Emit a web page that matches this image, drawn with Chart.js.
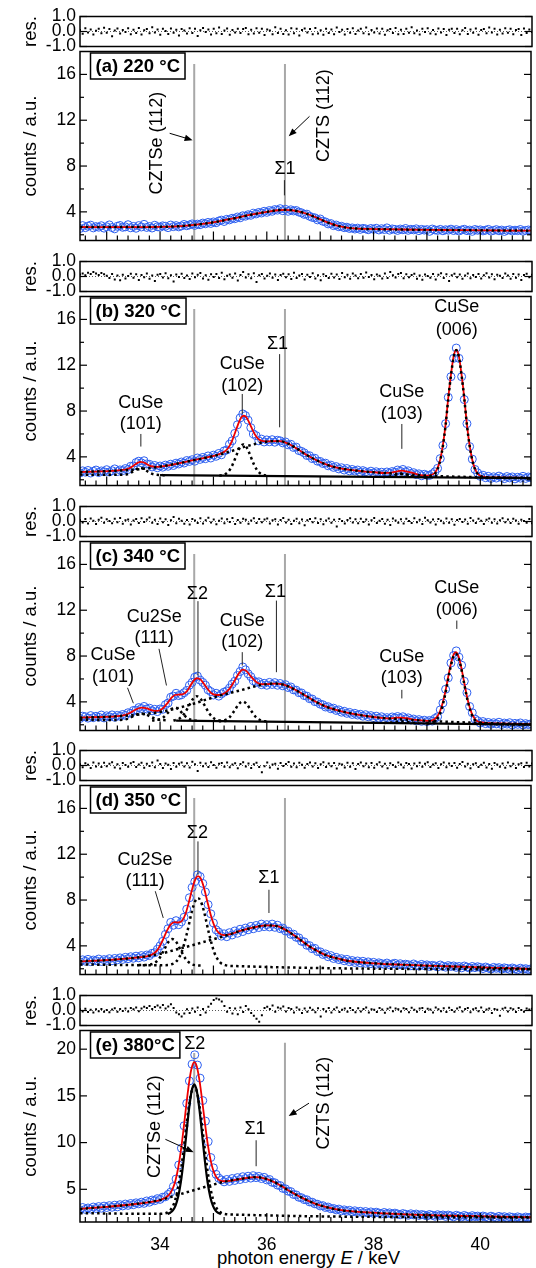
<!DOCTYPE html>
<html><head><meta charset="utf-8">
<script src="https://cdn.jsdelivr.net/npm/chart.js@4.4.1/dist/chart.umd.min.js"></script>
<style>
html,body{margin:0;padding:0;background:#fff}
body{position:relative;width:536px;height:1268px;overflow:hidden}
canvas{position:absolute;left:0}
#xtitle{position:absolute;left:0;width:617px;text-align:center;top:1248px;font:18.5px "Liberation Sans",Arial,sans-serif;line-height:20px;white-space:nowrap;color:#000}
</style></head><body>
<div id="xtitle">photon energy <i>E</i> / keV</div>
<script>
// ---------- energy grid (measurement points, keV) ----------
const energyStart = 32.5, energyStep = 0.05, energyCount = 170;
const energy = Array.from({length: energyCount}, (_, i) => Math.round((energyStart + energyStep * i) * 100) / 100);
const xTickLabels = [34, 36, 38, 40];
const resTickLabels = [-1, 0, 1];
const countTicksAD = [4, 8, 12, 16];
const countMinorAD = [2, 6, 10, 14];
const countTicksE = [5, 10, 15, 20];

// ---------- (a) 220 °C ----------
const aCounts = [2.55,2.80,2.62,2.75,2.84,2.60,2.71,2.66,2.79,2.58,
2.70,2.86,2.63,2.52,2.74,2.81,2.65,2.69,2.88,2.61,
2.73,2.57,2.80,2.68,2.91,2.64,2.72,2.59,2.83,2.70,
2.66,2.78,2.74,2.62,2.85,2.71,2.80,2.69,2.77,2.90,
2.79,2.86,2.95,2.82,2.93,2.88,3.02,2.96,3.08,2.99,
3.12,3.05,3.20,3.28,3.16,3.35,3.30,3.44,3.40,3.55,
3.48,3.66,3.62,3.75,3.70,3.88,3.82,3.95,3.90,4.05,
3.96,4.12,4.05,4.20,4.15,4.28,4.10,4.22,4.05,4.18,
4.08,4.12,3.98,3.92,3.78,3.80,3.62,3.52,3.48,3.30,
3.38,3.18,3.12,2.95,2.98,2.80,2.85,2.70,2.74,2.62,
2.66,2.55,2.60,2.50,2.58,2.47,2.56,2.52,2.44,2.55,
2.48,2.57,2.42,2.53,2.46,2.60,2.40,2.51,2.47,2.38,
2.50,2.44,2.55,2.39,2.48,2.43,2.52,2.36,2.47,2.41,
2.45,2.30,2.50,2.42,2.38,2.47,2.35,2.44,2.40,2.49,
2.37,2.45,2.33,2.42,2.48,2.36,2.41,2.30,2.46,2.39,
2.43,2.34,2.40,2.47,2.32,2.38,2.45,2.35,2.41,2.29,
2.39,2.44,2.33,2.40,2.36,2.46,2.31,2.38,2.42,2.35];
const aRes = [.10,-.15,.22,-.06,.14,-.20,.05,.18,-.12,.25,
-.08,.16,-.32,.06,.20,-.14,.10,-.04,.22,-.18,
.12,-.10,.24,-.20,.08,.16,-.12,.28,-.06,.14,
-.22,.18,.04,-.16,.20,-.08,.12,-.26,.16,.06,
-.14,.22,-.10,.18,-.30,.08,.24,-.04,.14,-.20,
.18,-.12,.26,-.16,.06,.20,-.22,.10,-.06,.18,
-.10,.16,.24,-.18,.12,-.14,.22,-.08,.18,-.24,
.14,.06,-.18,.28,-.10,.18,-.16,.08,-.20,.22,
-.12,.18,-.26,.10,.20,-.06,.16,-.18,.24,-.14,
.08,-.22,.18,-.10,.14,-.18,.26,-.04,.12,-.20,
.16,-.08,.22,-.16,.06,.18,-.12,.26,-.18,.10,
-.06,.20,-.14,.18,-.22,.08,.16,-.10,.24,-.18,
.12,-.16,.18,-.08,.28,-.12,.06,-.20,.18,-.04,
.22,-.14,.10,-.18,.20,-.06,.16,-.24,.12,.18,
-.10,.18,-.18,.08,.24,-.16,.14,-.08,.20,-.22,
.10,.16,-.12,.26,-.06,.18,-.20,.12,-.14,.22,
-.08,.18,-.18,.10,.16,-.24,.20,-.10,.14,-.04];
const aFitX = [32.5,33.0,33.5,34.0,34.4,34.8,35.1,35.4,35.7,36.0,36.2,36.35,36.5,36.7,36.9,37.1,37.3,37.5,37.7,38.0,38.5,39.0,39.5,40.0,40.5,40.95];
const aFitY = [2.68,2.67,2.67,2.69,2.76,2.95,3.17,3.45,3.75,4.00,4.14,4.18,4.12,3.90,3.55,3.15,2.82,2.62,2.54,2.50,2.46,2.43,2.41,2.39,2.37,2.36];

// ---------- (b) 320 °C ----------
const bCounts = [2.60,2.78,2.66,2.81,2.59,2.74,2.85,2.63,2.77,2.70,
2.88,2.68,2.79,2.95,2.72,2.86,2.80,2.98,2.90,3.18,
3.20,3.50,3.62,3.48,3.66,3.38,3.35,3.12,3.25,3.05,
3.20,3.10,3.28,3.18,3.36,3.25,3.45,3.38,3.55,3.46,
3.68,3.60,3.75,3.62,3.90,3.78,3.95,3.84,4.08,3.90,
4.15,4.05,4.30,4.18,4.52,4.60,5.10,5.40,6.05,6.80,
7.40,7.75,7.60,7.20,6.55,6.00,5.85,5.40,5.55,5.30,
5.48,5.32,5.50,5.28,5.45,5.40,5.22,5.30,5.05,5.10,
4.82,4.85,4.55,4.48,4.35,4.12,4.10,3.85,3.88,3.62,
3.60,3.42,3.45,3.22,3.28,3.08,3.15,2.95,3.05,2.85,
2.98,2.78,2.90,2.76,2.85,2.65,2.80,2.70,2.62,2.75,
2.60,2.70,2.55,2.66,2.52,2.68,2.58,2.72,2.66,2.85,
2.74,2.90,2.70,2.78,2.55,2.62,2.45,2.52,2.35,2.48,
2.40,2.38,2.52,2.70,3.00,3.85,5.00,6.90,9.20,11.00,
12.60,13.50,12.60,11.00,9.00,6.90,4.90,3.80,2.90,2.60,
2.30,2.40,2.18,2.30,2.12,2.26,2.15,2.32,2.20,2.10,
2.28,2.16,2.25,2.08,2.22,2.14,2.30,2.12,2.24,2.18];
const bRes = [.14,.20,.08,.25,.16,.30,.20,.10,.24,.15,
.05,-.10,.17,-.20,.07,-.25,.12,-.14,.04,.19,
-.08,.15,-.24,.10,-.05,.20,-.15,.07,-.30,.12,
.17,-.07,.22,-.12,.08,-.34,.14,-.04,.19,-.10,
.07,-.17,.20,-.05,.12,.24,-.14,.08,-.22,.15,
-.04,.17,-.10,.25,-.19,.05,.14,-.08,.20,-.27,
.10,.30,-.07,.15,-.12,.22,-.37,.08,.17,-.14,
.05,.20,-.08,.14,-.24,.10,.19,-.05,.15,-.17,
.25,-.10,.07,.17,-.20,.12,-.04,.22,-.14,.08,
-.25,.15,.04,-.10,.19,-.07,.14,-.17,.24,-.05,
.12,-.15,.20,.07,-.12,.17,-.08,.27,-.04,.10,
-.19,.14,.05,-.14,.20,-.10,.30,.08,-.07,.17,
.24,-.12,.15,-.05,.10,.19,-.15,.07,-.22,.14,
.04,-.08,.17,-.20,.12,.22,-.10,.15,-.30,.08,
.19,-.05,.14,-.15,.07,.20,-.12,.10,-.04,.17,
-.14,.08,.22,-.07,.15,-.19,.12,.05,-.10,.20,
.07,-.15,.17,-.08,.14,-.24,.10,.19,-.05,.12];
const bFitX = [32.5,32.8,33.1,33.3,33.38,33.43,33.48,33.53,33.58,33.63,33.68,33.73,33.78,33.83,33.88,33.95,34.1,34.3,34.5,34.7,34.9,35.05,35.16,35.21,35.26,35.31,35.36,35.41,35.46,35.51,35.56,35.61,35.66,35.71,35.76,35.81,35.86,35.91,35.96,36.1,36.25,36.4,36.55,36.7,36.85,37.0,37.2,37.4,37.6,37.8,38.0,38.2,38.33,38.43,38.53,38.63,38.73,38.85,39.0,39.1,39.15,39.2,39.25,39.3,39.35,39.4,39.45,39.5,39.55,39.6,39.65,39.7,39.75,39.8,39.85,39.9,39.95,40.0,40.1,40.3,40.6,40.95];
const bFitY = [2.68,2.72,2.78,2.86,2.93,3.02,3.16,3.33,3.48,3.56,3.53,3.43,3.29,3.19,3.14,3.13,3.21,3.39,3.59,3.78,3.98,4.14,4.33,4.47,4.69,5.03,5.53,6.17,6.82,7.35,7.59,7.49,7.10,6.59,6.09,5.72,5.49,5.39,5.35,5.37,5.37,5.15,4.75,4.30,3.90,3.55,3.20,2.98,2.84,2.74,2.66,2.59,2.63,2.72,2.80,2.72,2.60,2.43,2.37,2.46,2.63,3.04,3.79,5.05,6.83,9.16,11.15,12.76,13.36,12.75,11.14,9.13,6.80,5.00,3.73,2.96,2.55,2.35,2.24,2.20,2.18,2.16];
const bBroadX = [32.5,33.0,33.5,33.9,34.25,34.6,35.0,35.3,35.6,35.9,36.1,36.25,36.4,36.55,36.7,36.85,37.0,37.2,37.4,37.6,37.8,38.0,38.3,38.6,39.0,39.4,39.8,40.2,40.6,40.95];
const bBroadY = [2.68,2.76,2.88,3.08,3.35,3.68,4.08,4.45,4.90,5.25,5.37,5.37,5.15,4.75,4.30,3.90,3.55,3.20,2.98,2.84,2.74,2.66,2.56,2.46,2.36,2.29,2.24,2.20,2.18,2.16];
const bBaseX = [34.0,40.95];
const bBaseY = [2.40,2.15];
const b101X = [32.5,33.28,33.33,33.38,33.43,33.48,33.53,33.58,33.63,33.68,33.73,33.78,33.83,33.88,33.93,33.98,34.1];
const b101Y = [2.45,2.43,2.44,2.48,2.56,2.69,2.85,2.98,3.03,2.98,2.85,2.69,2.56,2.48,2.44,2.42,2.40];
const b102X = [35.11,35.16,35.21,35.26,35.31,35.36,35.41,35.46,35.51,35.56,35.61,35.66,35.71,35.76,35.81,35.86,35.91,35.96,36.01];
const b102Y = [2.36,2.39,2.46,2.62,2.90,3.33,3.89,4.47,4.92,5.09,4.92,4.47,3.89,3.33,2.90,2.62,2.46,2.39,2.36];
const b103X = [38.18,38.28,38.33,38.38,38.43,38.48,38.53,38.58,38.63,38.68,38.73,38.78,38.88];
const b103Y = [2.25,2.28,2.32,2.38,2.45,2.51,2.54,2.51,2.45,2.38,2.32,2.28,2.25];
const b006X = [38.95,39.05,39.1,39.15,39.2,39.25,39.3,39.35,39.4,39.45,39.5,39.55,39.6,39.65,39.7,39.75,39.8,39.85,39.9,39.95,40.0,40.05,40.15,40.95];
const b006Y = [2.20,2.21,2.32,2.50,2.93,3.70,4.97,6.76,9.09,11.09,12.70,13.30,12.70,11.09,9.09,6.76,4.97,3.70,2.93,2.52,2.32,2.24,2.19,2.15];

// ---------- (c) 340 °C ----------
const cCounts = [2.55,2.75,2.70,2.58,2.80,2.62,2.74,2.66,2.85,2.60,
2.78,2.70,2.86,2.65,2.82,2.74,2.90,2.82,3.05,3.00,
3.25,3.28,3.50,3.42,3.60,3.38,3.45,3.22,3.35,3.15,
3.38,3.35,3.75,3.90,4.40,4.50,4.75,4.55,4.62,4.80,
5.00,5.45,5.70,6.15,6.25,5.90,5.70,5.45,5.05,4.90,
4.60,4.75,4.50,4.70,4.85,4.95,5.20,5.55,5.80,6.30,
6.65,7.05,6.80,6.45,6.20,5.85,5.70,5.75,5.50,5.62,
5.45,5.70,5.52,5.68,5.45,5.60,5.40,5.50,5.25,5.30,
5.05,5.02,4.80,4.78,4.55,4.50,4.28,4.25,4.02,3.98,
3.80,3.75,3.55,3.58,3.40,3.45,3.25,3.30,3.10,3.18,
3.00,3.08,2.90,3.00,2.85,2.92,2.75,2.88,2.70,2.80,
2.62,2.75,2.58,2.70,2.52,2.62,2.50,2.68,2.60,2.72,
2.58,2.70,2.52,2.60,2.42,2.50,2.35,2.45,2.30,2.40,
2.28,2.38,2.32,2.55,2.70,3.30,3.90,5.10,6.10,7.40,
8.05,8.45,7.90,7.20,5.80,4.80,3.60,3.05,2.50,2.35,
2.15,2.28,2.10,2.20,2.05,2.18,2.08,2.22,2.02,2.15,
2.06,2.18,1.98,2.12,2.04,2.16,1.98,2.10,2.02,2.08];
const cRes = [.10,-.07,.17,-.14,.20,.05,-.17,.12,.25,-.08,
.15,.04,-.12,.19,-.05,.24,-.15,.08,.14,-.20,
.07,.17,-.10,.22,-.04,.14,.27,-.08,.12,-.17,
.20,-.05,.15,-.24,.08,.30,-.12,.19,.05,-.15,
.10,-.20,.17,.07,-.10,.22,-.14,.08,.25,-.07,
.14,-.19,.05,.20,-.12,.15,-.04,.24,-.17,.10,
-.08,.19,.12,-.15,.07,.22,-.10,.17,-.05,.14,
.20,-.14,.08,.15,-.20,.10,.24,-.07,.12,-.17,
.05,.19,-.12,.14,-.25,.08,.17,-.05,.22,-.10,
.15,-.19,.07,.20,-.08,.12,-.34,.17,.04,-.14,
.10,.22,-.07,.15,-.12,.19,-.04,.14,-.20,.08,
.24,-.10,.05,.17,-.15,.12,-.24,.20,.07,-.08,
.15,-.14,.19,.04,-.10,.22,-.05,.12,-.17,.25,
.08,-.07,.14,-.20,.17,.05,-.12,.20,-.08,.15,
-.22,.10,.17,-.04,.14,-.15,.24,.07,-.10,.19,
.05,-.17,.12,.20,-.08,.15,-.14,.08,.22,-.05,
.14,-.10,.19,.07,-.15,.12,.04,-.08,.17,-.12];
const cFitX = [32.5,32.9,33.2,33.35,33.45,33.55,33.65,33.75,33.85,33.95,34.05,34.15,34.22,34.28,34.35,34.42,34.5,34.56,34.62,34.69,34.76,34.82,34.88,34.95,35.02,35.1,35.2,35.3,35.4,35.48,35.55,35.62,35.7,35.8,35.9,36.0,36.15,36.3,36.45,36.6,36.75,36.9,37.1,37.3,37.5,37.7,38.0,38.3,38.42,38.52,38.62,38.75,39.0,39.1,39.15,39.2,39.25,39.3,39.35,39.4,39.45,39.5,39.54,39.59,39.64,39.69,39.74,39.79,39.84,39.89,39.94,39.99,40.5,40.95];
const cFitY = [2.62,2.68,2.75,2.87,3.07,3.34,3.50,3.43,3.26,3.21,3.42,3.96,4.39,4.60,4.64,4.65,4.91,5.34,5.79,6.06,5.94,5.58,5.19,4.81,4.62,4.60,4.73,5.13,5.87,6.51,6.81,6.68,6.23,5.74,5.54,5.55,5.60,5.52,5.25,4.88,4.47,4.05,3.60,3.30,3.06,2.88,2.68,2.55,2.62,2.63,2.57,2.44,2.34,2.39,2.52,2.77,3.23,3.98,5.00,6.21,7.35,8.13,8.33,7.99,7.09,5.90,4.70,3.70,3.00,2.57,2.33,2.23,2.10,2.05];
const cBroadX = [32.5,33.0,33.5,34.0,34.3,34.6,34.9,35.2,35.5,35.8,36.0,36.15,36.3,36.45,36.6,36.75,36.9,37.1,37.3,37.5,37.7,38.0,38.3,38.7,39.1,39.5,40.0,40.5,40.95];
const cBroadY = [2.62,2.70,2.84,3.12,3.42,3.80,4.25,4.65,5.00,5.38,5.55,5.60,5.52,5.25,4.88,4.47,4.05,3.60,3.30,3.06,2.88,2.68,2.55,2.42,2.32,2.24,2.16,2.10,2.05];
const cBaseX = [34.3,40.95];
const cBaseY = [2.36,2.02];
const c101X = [32.5,33.05,33.2,33.3,33.35,33.45,33.55,33.65,33.75,33.85,33.95,34.05,34.15];
const c101Y = [2.45,2.41,2.42,2.44,2.47,2.64,2.87,2.99,2.87,2.64,2.47,2.41,2.38];
const c111X = [33.85,33.95,34.05,34.15,34.22,34.28,34.35,34.42,34.5,34.6,34.7];
const c111Y = [2.37,2.42,2.60,3.06,3.39,3.51,3.34,2.99,2.63,2.40,2.34];
const cS2X = [34.25,34.35,34.45,34.55,34.62,34.69,34.76,34.83,34.93,35.03,35.13,35.25];
const cS2Y = [2.37,2.50,2.94,3.73,4.27,4.49,4.27,3.73,2.94,2.50,2.37,2.33];
const c102X = [35.1,35.2,35.3,35.4,35.48,35.55,35.62,35.7,35.8,35.9,36.0];
const c102Y = [2.30,2.37,2.65,3.28,3.83,4.04,3.83,3.28,2.65,2.37,2.29];
const c103X = [38.2,38.32,38.42,38.52,38.62,38.72,38.85];
const c103Y = [2.16,2.19,2.25,2.29,2.25,2.19,2.13];
const c006X = [39.0,39.1,39.2,39.25,39.3,39.35,39.4,39.45,39.5,39.54,39.59,39.64,39.69,39.74,39.79,39.84,39.89,39.94,40.0,40.95];
const c006Y = [2.11,2.18,2.57,3.03,3.79,4.82,6.05,7.19,7.98,8.19,7.86,6.97,5.79,4.59,3.60,2.90,2.47,2.24,2.14,2.02];

// ---------- (d) 350 °C ----------
const dCounts = [2.60,2.78,2.66,2.82,2.62,2.76,2.70,2.85,2.64,2.80,
2.72,2.88,2.70,2.90,2.78,2.95,2.82,3.00,2.88,3.05,
2.92,3.10,2.96,3.15,3.02,3.20,3.15,3.35,3.40,3.70,
4.00,4.40,5.00,5.50,6.05,5.80,6.20,5.85,6.10,6.50,
7.20,8.20,9.10,9.60,10.20,10.05,9.45,8.70,7.60,6.80,
6.00,5.40,5.20,4.85,5.05,4.80,5.15,4.95,5.30,5.10,
5.45,5.25,5.55,5.40,5.70,5.50,5.78,5.60,5.90,5.68,
5.85,5.65,5.90,5.62,5.80,5.50,5.55,5.30,5.28,5.00,
5.02,4.75,4.70,4.40,4.35,4.05,4.02,3.75,3.78,3.50,
3.48,3.25,3.30,3.05,3.15,2.90,3.00,2.80,2.88,2.70,
2.82,2.62,2.72,2.55,2.68,2.52,2.65,2.48,2.60,2.45,
2.56,2.40,2.52,2.45,2.38,2.50,2.36,2.42,2.48,2.32,
2.44,2.30,2.40,2.35,2.26,2.42,2.30,2.24,2.38,2.27,
2.34,2.20,2.30,2.25,2.16,2.33,2.22,2.14,2.28,2.20,
2.25,2.12,2.20,2.08,2.24,2.15,2.06,2.20,2.10,2.18,
2.12,2.02,2.15,2.06,1.98,2.12,2.04,2.10,1.97,2.08,
2.03,1.95,2.07,1.99,1.92,2.05,1.96,2.01,1.93,1.99];
const dRes = [.08,-.12,.15,.05,-.17,.20,-.07,.14,-.10,.19,
-.05,.12,.22,-.14,.08,-.20,.17,.04,-.08,.15,
.24,-.10,.07,.19,-.15,.12,-.04,.20,-.12,.34,
.10,-.17,.14,.05,-.24,.17,-.08,.12,.20,-.07,
.15,-.14,.25,.08,-.37,.19,-.05,.14,-.10,.22,
.04,-.15,.12,.17,-.08,.20,-.12,.07,.15,-.19,
.10,.22,-.07,.14,-.17,.08,.19,-.10,-.45,-.05,
.20,-.14,.07,.12,-.22,.17,-.04,.10,.24,-.08,
.14,-.12,.19,.05,-.15,.10,.20,-.07,.15,-.17,
.08,.22,-.10,.14,-.05,.17,-.20,.12,.07,-.14,
.19,-.08,.15,-.24,.10,.20,-.05,.14,-.12,.17,
-.15,.08,.22,-.07,.12,-.19,.15,.04,-.10,.20,
.07,-.14,.17,.10,-.20,.14,-.05,.19,-.08,.12,
.22,-.10,.07,.15,-.17,.08,.20,-.12,.14,-.04,
.17,-.15,.10,.24,-.07,.12,-.19,.08,.15,-.10,
.05,.19,-.14,.10,-.22,.17,.07,-.08,.14,-.15,
.20,-.05,.12,-.17,.08,.15,-.10,.19,-.07,.14];
const dFitX = [32.5,32.9,33.3,33.6,33.75,33.85,33.95,34.05,34.13,34.2,34.27,34.34,34.41,34.48,34.55,34.62,34.67,34.71,34.76,34.82,34.88,34.95,35.02,35.1,35.2,35.3,35.5,35.8,36.0,36.2,36.35,36.5,36.65,36.8,36.95,37.1,37.3,37.5,37.75,38.0,38.5,39.0,39.5,40.0,40.5,40.95];
const dFitY = [2.65,2.73,2.87,3.00,3.09,3.24,3.63,4.49,5.33,5.87,6.07,6.04,6.17,6.83,8.00,9.27,9.90,10.08,9.90,9.12,7.99,6.70,5.73,5.14,4.94,5.00,5.30,5.65,5.78,5.72,5.40,4.95,4.45,3.95,3.55,3.20,2.92,2.70,2.57,2.48,2.36,2.27,2.20,2.12,2.05,1.98];
const dBroadX = [32.5,33.0,33.5,34.0,34.3,34.6,34.9,35.2,35.5,35.8,36.0,36.2,36.35,36.5,36.65,36.8,36.95,37.1,37.3,37.5,37.75,38.0,38.5,39.0,39.5,40.0,40.5,40.95];
const dBroadY = [2.65,2.75,2.95,3.30,3.68,4.05,4.45,4.85,5.30,5.65,5.78,5.72,5.40,4.95,4.45,3.95,3.55,3.20,2.92,2.70,2.57,2.48,2.36,2.27,2.20,2.12,2.05,1.98];
const dS2X = [32.5,33.9,34.1,34.2,34.3,34.4,34.5,34.6,34.66,34.71,34.76,34.82,34.92,35.02,35.12,35.22,35.32,40.95];
const dS2Y = [2.38,2.31,2.31,2.37,2.61,3.41,5.03,7.07,7.92,8.17,7.92,7.06,5.02,3.38,2.58,2.32,2.25,1.95];
const d111X = [33.6,33.78,33.88,33.98,34.08,34.15,34.23,34.31,34.38,34.48,34.58,34.68,34.8];
const d111Y = [2.32,2.35,2.46,2.87,3.69,4.30,4.59,4.29,3.68,2.86,2.43,2.30,2.27];

// ---------- (e) 380 °C ----------
const eCounts = [2.80,3.05,2.85,3.00,2.88,3.10,2.95,3.15,2.98,3.20,
3.05,3.25,3.08,3.30,3.12,3.35,3.22,3.42,3.28,3.48,
3.35,3.55,3.45,3.62,3.50,3.75,3.62,3.85,3.78,4.00,
3.92,4.15,4.20,4.45,4.70,5.30,6.10,7.60,9.40,11.80,
14.20,16.60,18.40,19.40,18.30,16.90,14.50,12.30,10.10,8.40,
7.30,6.60,6.20,6.00,5.80,6.05,5.85,6.15,5.95,6.25,
6.05,6.35,6.15,6.40,6.20,6.45,6.25,6.38,6.15,6.28,
6.00,6.05,5.75,5.70,5.45,5.40,5.10,5.05,4.80,4.75,
4.45,4.40,4.15,4.10,3.90,3.88,3.65,3.62,3.45,3.40,
3.22,3.25,3.05,3.10,2.92,2.95,2.80,2.88,2.70,2.80,
2.65,2.75,2.58,2.70,2.52,2.65,2.50,2.62,2.45,2.58,
2.42,2.55,2.46,2.38,2.52,2.40,2.48,2.34,2.45,2.36,
2.28,2.40,2.33,2.22,2.38,2.26,2.35,2.20,2.30,2.24,
2.15,2.30,2.22,2.12,2.28,2.18,2.25,2.10,2.24,2.16,
2.05,2.22,2.14,2.04,2.20,2.10,2.02,2.18,2.08,2.13,
1.98,2.14,2.06,1.96,2.12,2.03,1.95,2.10,2.00,2.07,
1.93,2.06,2.00,1.91,2.05,1.97,1.90,2.03,1.95,2.02];
const eRes = [.08,-.07,.12,-.10,.05,-.14,.08,-.05,.10,-.08,
.04,-.12,.07,.15,-.08,.10,-.04,.14,-.07,.17,
.08,.20,-.05,.14,.25,.17,.30,.10,.24,.34,
.20,.37,.14,.27,.42,.17,-.14,-.25,-.40,-.20,
.08,-.17,.14,-.08,.20,-.30,.10,-.14,.25,.45,
.70,.80,.74,.60,.30,-.08,.17,-.20,.14,-.25,
.20,-.10,.30,.08,-.17,-.35,-.55,-.75,-.32,.17,
.25,.10,.34,-.08,.20,.14,.27,-.07,.17,.10,
-.14,.20,.07,-.17,.14,-.08,.19,.05,-.12,.15,
-.40,.10,-.07,.17,-.14,.08,.20,-.10,.05,.14,
-.08,.17,.04,-.12,.15,-.07,.10,.20,-.14,.08,
.05,-.10,.17,.07,-.15,.12,.20,-.05,.14,.08,
-.07,.15,.10,-.12,.19,.05,-.08,.14,.17,-.10,
.12,.07,-.14,.20,.08,-.05,.15,-.10,.19,.04,
-.08,.14,.22,-.07,.10,.17,-.12,.08,.15,-.05,
.20,-.10,.07,.14,-.17,.10,.05,-.35,.12,.19,
-.07,.15,.08,-.10,.17,.04,-.08,.14,.07,.12];
const eFitX = [32.5,33.0,33.5,33.8,34.0,34.09,34.14,34.19,34.24,34.29,34.34,34.39,34.44,34.49,34.54,34.59,34.64,34.69,34.74,34.79,34.84,34.89,34.94,34.99,35.04,35.09,35.14,35.19,35.3,35.5,35.8,36.0,36.2,36.4,36.7,37.0,37.4,37.8,38.2,38.7,39.3,39.9,40.5,40.95];
const eFitY = [2.90,3.13,3.40,3.62,3.85,4.07,4.26,4.58,5.11,5.97,7.31,9.14,11.44,13.96,16.27,17.95,18.62,18.12,16.60,14.46,12.11,9.97,8.31,7.14,6.44,6.06,5.90,5.86,5.90,6.10,6.30,6.10,5.60,4.90,3.98,3.27,2.76,2.55,2.42,2.30,2.19,2.12,2.05,2.01];
const eBroadX = [32.5,33.0,33.5,34.0,34.3,34.6,34.9,35.2,35.5,35.8,36.0,36.2,36.4,36.7,37.0,37.4,37.8,38.2,38.7,39.3,39.9,40.5,40.95];
const eBroadY = [2.90,3.13,3.40,3.85,4.35,4.85,5.35,5.80,6.10,6.30,6.10,5.60,4.90,3.98,3.27,2.76,2.55,2.42,2.30,2.19,2.12,2.05,2.01];
const eS2X = [32.5,33.9,34.09,34.14,34.19,34.24,34.29,34.34,34.39,34.44,34.49,34.54,34.59,34.64,34.69,34.74,34.79,34.84,34.89,34.94,34.99,35.04,35.09,35.14,35.19,35.3,40.95];
const eS2Y = [2.45,2.37,2.42,2.53,2.75,3.20,3.98,5.23,6.97,9.19,11.62,13.85,15.45,16.03,15.45,13.85,11.62,9.19,6.97,5.22,3.97,3.19,2.74,2.51,2.39,2.31,1.98];
const eCztseX = [34.14,34.19,34.24,34.29,34.34,34.39,34.44,34.49,34.54,34.59,34.64,34.69,34.74,34.79,34.84,34.89,34.94,34.99,35.04,35.09,35.14];
const eCztseY = [2.36,2.49,2.74,3.26,4.22,5.79,8.04,10.77,13.46,15.48,16.23,15.48,13.45,10.76,8.03,5.78,4.21,3.25,2.72,2.47,2.34];

// ---------- styling / layout ----------
const FONT = '"Liberation Sans", Arial, sans-serif';
Chart.defaults.font.family = FONT;
Chart.defaults.color = '#000';
const BLUE = 'rgb(45,95,240)';
const RED = 'rgb(238,0,0)';
const T0 = 14, TSTEP = 244.8, RES_H = 35, MAIN_H = 194, PAD = 12, AXIS_W = 80, XLAB_H = 30;

const pts = (xs, ys) => xs.map((v, i) => ({x: v, y: ys[i]}));

const deco = {
  id: 'deco',
  beforeDatasetsDraw(chart, args, o) {
    const {ctx, chartArea: a, scales: {x, y}} = chart;
    ctx.save();
    ctx.beginPath(); ctx.rect(a.left, a.top, a.right - a.left, a.bottom - a.top); ctx.clip();
    if (o.zero) {
      const p = y.getPixelForValue(0);
      ctx.strokeStyle = '#555'; ctx.lineWidth = 1; ctx.setLineDash([1, 2]);
      ctx.beginPath(); ctx.moveTo(a.left, p); ctx.lineTo(a.right, p); ctx.stroke();
      ctx.setLineDash([]);
    }
    ctx.strokeStyle = '#a8a8a8'; ctx.lineWidth = 2;
    (o.gray || []).forEach(g => {
      const px = x.getPixelForValue(g[0]);
      ctx.beginPath(); ctx.moveTo(px, y.getPixelForValue(g[1])); ctx.lineTo(px, a.bottom); ctx.stroke();
    });
    ctx.restore();
  },
  afterDraw(chart, args, o) {
    const {ctx, chartArea: a, scales: {x, y}} = chart;
    const seg = (x1, y1, x2, y2) => { ctx.beginPath(); ctx.moveTo(x1, y1); ctx.lineTo(x2, y2); ctx.stroke(); };
    ctx.save();
    ctx.strokeStyle = '#000'; ctx.lineWidth = 1.5;
    ctx.strokeRect(a.left, a.top, a.right - a.left, a.bottom - a.top);
    ctx.lineWidth = 1.2;
    (o.yMajor || []).forEach(v => { const p = y.getPixelForValue(v); seg(a.left, p, a.left + 7, p); seg(a.right, p, a.right - 7, p); });
    (o.yMinor || []).forEach(v => { const p = y.getPixelForValue(v); seg(a.left, p, a.left + 4, p); seg(a.right, p, a.right - 4, p); });
    if (o.xTicks) {
      for (let k = 163; k <= 204; k++) {
        const p = x.getPixelForValue(k / 5);
        seg(p, a.bottom, p, a.bottom - (k % 5 === 0 ? 9 : 5));
      }
    }
    ctx.strokeStyle = '#222'; ctx.lineWidth = 1;
    (o.leaders || []).forEach(l => seg(x.getPixelForValue(l[0]), y.getPixelForValue(l[1]), x.getPixelForValue(l[2]), y.getPixelForValue(l[3])));
    ctx.strokeStyle = '#000'; ctx.fillStyle = '#000';
    (o.arrows || []).forEach(l => {
      const x1 = x.getPixelForValue(l[0]), y1 = y.getPixelForValue(l[1]);
      const x2 = x.getPixelForValue(l[2]), y2 = y.getPixelForValue(l[3]);
      const ang = Math.atan2(y2 - y1, x2 - x1);
      seg(x1, y1, x2 - 5 * Math.cos(ang), y2 - 5 * Math.sin(ang));
      ctx.beginPath();
      ctx.moveTo(x2, y2);
      ctx.lineTo(x2 - 8 * Math.cos(ang) + 3.2 * Math.sin(ang), y2 - 8 * Math.sin(ang) - 3.2 * Math.cos(ang));
      ctx.lineTo(x2 - 8 * Math.cos(ang) - 3.2 * Math.sin(ang), y2 - 8 * Math.sin(ang) + 3.2 * Math.cos(ang));
      ctx.closePath(); ctx.fill();
    });
    ctx.font = '18px ' + FONT; ctx.textAlign = 'center'; ctx.textBaseline = 'middle';
    (o.texts || []).forEach(t => {
      const px = x.getPixelForValue(t.x), py = y.getPixelForValue(t.y);
      if (t.rot) { ctx.save(); ctx.translate(px, py); ctx.rotate(-Math.PI / 2); ctx.fillText(t.t, 0, 0); ctx.restore(); }
      else ctx.fillText(t.t, px, py);
    });
    if (o.tag) {
      ctx.font = 'bold 18.5px ' + FONT;
      const w = ctx.measureText(o.tag).width + 10;
      const bx = a.left + 10.5, by = a.top + 1.5, bh = 26;
      ctx.fillStyle = '#fff'; ctx.fillRect(bx, by, w, bh);
      ctx.strokeStyle = '#000'; ctx.lineWidth = 1.5; ctx.strokeRect(bx, by, w, bh);
      ctx.fillStyle = '#000'; ctx.textAlign = 'left';
      ctx.fillText(o.tag, bx + 5, by + bh / 2 + 1);
    }
    ctx.restore();
  }
};

const dotStyle = {borderColor: '#000', borderWidth: 2.5, borderDash: [2.5, 3.2], order: 2};
const panels = [
  {tag: '(a) 220 °C', counts: aCounts, res: aRes, ymax: 18, ticks: countTicksAD, minor: countMinorAD,
   fit: [aFitX, aFitY], dots: [[aFitX, aFitY]], solids: [],
   gray: [[34.64, 16.9], [36.34, 16.9]],
   texts: [{t: 'CZTSe (112)', x: 33.94, y: 10.0, rot: 1}, {t: 'CZTS (112)', x: 37.08, y: 12.4, rot: 1}, {t: 'Σ1', x: 36.34, y: 7.77}],
   leaders: [[36.33, 6.77, 36.33, 5.44]],
   arrows: [[34.18, 10.86, 34.61, 10.26], [36.8, 12.34, 36.41, 10.6]]},
  {tag: '(b) 320 °C', counts: bCounts, res: bRes, ymax: 18, ticks: countTicksAD, minor: countMinorAD,
   fit: [bFitX, bFitY], dots: [[bBroadX, bBroadY], [b101X, b101Y], [b102X, b102Y], [b103X, b103Y], [b006X, b006Y]], solids: [[bBaseX, bBaseY]],
   gray: [[34.64, 16.9], [36.34, 16.9]],
   texts: [{t: 'CuSe', x: 33.64, y: 8.71}, {t: '(101)', x: 33.64, y: 6.87}, {t: 'CuSe', x: 35.54, y: 12.1}, {t: '(102)', x: 35.54, y: 10.2},
           {t: 'Σ1', x: 36.2, y: 13.85}, {t: 'CuSe', x: 38.53, y: 9.63}, {t: '(103)', x: 38.53, y: 7.75}, {t: 'CuSe', x: 39.56, y: 17.05}, {t: '(006)', x: 39.56, y: 15.07}],
   leaders: [[33.64, 6.0, 33.64, 4.9], [35.54, 9.49, 35.54, 7.75], [36.24, 12.97, 36.24, 6.58], [38.53, 6.87, 38.53, 4.7]], arrows: []},
  {tag: '(c) 340 °C', counts: cCounts, res: cRes, ymax: 18, ticks: countTicksAD, minor: countMinorAD,
   fit: [cFitX, cFitY], dots: [[cBroadX, cBroadY], [c101X, c101Y], [c111X, c111Y], [cS2X, cS2Y], [c102X, c102Y], [c103X, c103Y], [c006X, c006Y]], solids: [[cBaseX, cBaseY]],
   gray: [[34.64, 16.9], [36.34, 16.9]],
   texts: [{t: 'Σ2', x: 34.70, y: 13.43}, {t: 'Σ1', x: 36.16, y: 13.58}, {t: 'Cu2Se', x: 33.89, y: 11.38}, {t: '(111)', x: 33.89, y: 9.58},
           {t: 'CuSe', x: 33.12, y: 8.05}, {t: '(101)', x: 33.12, y: 6.21}, {t: 'CuSe', x: 35.54, y: 11.1}, {t: '(102)', x: 35.54, y: 9.2},
           {t: 'CuSe', x: 38.53, y: 7.9}, {t: '(103)', x: 38.53, y: 6.09}, {t: 'CuSe', x: 39.56, y: 13.94}, {t: '(006)', x: 39.56, y: 12.03}],
   leaders: [[34.71, 12.79, 34.71, 6.3], [36.18, 12.84, 36.18, 6.59], [33.98, 8.63, 34.12, 5.43], [33.39, 5.23, 33.5, 3.88], [35.54, 8.34, 35.54, 7.17], [38.53, 5.05, 38.53, 4.3], [39.56, 11.1, 39.56, 10.37]], arrows: []},
  {tag: '(d) 350 °C', counts: dCounts, res: dRes, ymax: 18, ticks: countTicksAD, minor: countMinorAD,
   fit: [dFitX, dFitY], dots: [[dBroadX, dBroadY], [dS2X, dS2Y], [d111X, d111Y]], solids: [],
   gray: [[34.64, 16.9], [36.34, 16.9]],
   texts: [{t: 'Σ2', x: 34.70, y: 13.85}, {t: 'Σ1', x: 36.04, y: 9.92}, {t: 'Cu2Se', x: 33.72, y: 11.52}, {t: '(111)', x: 33.72, y: 9.63}],
   leaders: [[34.71, 13.12, 34.71, 10.2], [36.04, 8.9, 36.04, 6.87], [33.91, 8.77, 34.06, 6.44]], arrows: []},
  {tag: '(e) 380°C', counts: eCounts, res: eRes, ymax: 22, ticks: countTicksE, minor: [],
   fit: [eFitX, eFitY], dots: [[eBroadX, eBroadY], [eS2X, eS2Y]], solids: [[eCztseX, eCztseY]],
   gray: [[34.64, 19.6], [36.34, 20.7]],
   texts: [{t: 'Σ2', x: 34.65, y: 20.6}, {t: 'Σ1', x: 35.78, y: 11.5}, {t: 'CZTSe (112)', x: 33.91, y: 11.7, rot: 1}, {t: 'CZTS (112)', x: 37.08, y: 14.23, rot: 1}],
   leaders: [[35.8, 10.25, 35.8, 7.47]],
   arrows: [[34.10, 10.35, 34.63, 8.98], [36.79, 14.22, 36.41, 12.85]]}
];

function addCanvas(top, h) {
  const c = document.createElement('canvas');
  c.width = 536; c.height = h; c.style.top = top + 'px'; c.style.width = '536px'; c.style.height = h + 'px';
  document.body.appendChild(c);
  return c;
}

function yAxis(min, max, ticks, title, fmt) {
  return {
    type: 'linear', min, max,
    grid: {display: false, drawTicks: false}, border: {display: false},
    afterBuildTicks: s => { s.ticks = ticks.map(v => ({value: v})); },
    afterFit: s => { s.width = AXIS_W; },
    ticks: {padding: 4, font: {size: 17.5}, color: '#000', autoSkip: false, callback: fmt},
    title: {display: true, text: title, font: {size: 18.5}, color: '#000', padding: {top: 20, bottom: 0}}
  };
}

panels.forEach((p, idx) => {
  const T = T0 + TSTEP * idx;
  const last = idx === panels.length - 1;
  // residual panel
  const rc = addCanvas(T - PAD, RES_H + 2 * PAD);
  new Chart(rc, {
    type: 'scatter',
    data: {datasets: [{data: pts(energy, p.res), pointStyle: 'rect', pointRadius: 1.4, pointBorderWidth: 0, backgroundColor: '#000', borderColor: '#000', showLine: false}]},
    options: {
      responsive: false, animation: false, events: [],
      layout: {padding: {top: PAD, bottom: PAD, left: 0, right: 1.5}},
      plugins: {legend: {display: false}, tooltip: {enabled: false}, deco: {zero: true, yMajor: resTickLabels}},
      scales: {
        x: {type: 'linear', min: energy[0], max: energy[energy.length - 1], display: false},
        y: yAxis(-1, 1, resTickLabels, 'res.', v => v.toFixed(1))
      }
    },
    plugins: [deco]
  });
  // main panel
  const mh = last ? PAD + MAIN_H + XLAB_H : MAIN_H + 2 * PAD;
  const mc = addCanvas(T + RES_H - PAD, mh);
  const ds = [{data: pts(energy, p.counts), pointStyle: 'circle', pointRadius: 4, pointBorderWidth: 1, borderColor: BLUE, backgroundColor: 'rgba(0,0,0,0)', showLine: false, order: 5}];
  ds.push({data: pts(p.fit[0], p.fit[1]), showLine: true, pointRadius: 0, borderColor: RED, borderWidth: 1.8, cubicInterpolationMode: 'monotone', order: 3});
  p.dots.forEach(d => ds.push(Object.assign({data: pts(d[0], d[1]), showLine: true, pointRadius: 0, cubicInterpolationMode: 'monotone'}, dotStyle)));
  p.solids.forEach(d => ds.push({data: pts(d[0], d[1]), showLine: true, pointRadius: 0, borderColor: '#000', borderWidth: 2.2, cubicInterpolationMode: 'monotone', order: 1}));
  const xScale = {type: 'linear', min: energy[0], max: energy[energy.length - 1], display: last,
      grid: {display: false, drawTicks: false}, border: {display: false},
      ticks: {autoSkip: false, maxRotation: 0, padding: 13, font: {size: 17.5}, color: '#000'}};
  if (last) {
    xScale.afterBuildTicks = s => { s.ticks = xTickLabels.map(v => ({value: v})); };
    xScale.afterFit = s => { s.height = XLAB_H; };
  }
  new Chart(mc, {
    type: 'scatter',
    data: {datasets: ds},
    options: {
      responsive: false, animation: false, events: [],
      layout: {padding: {top: PAD, bottom: last ? 0 : PAD, left: 0, right: 1.5}},
      plugins: {legend: {display: false}, tooltip: {enabled: false},
        deco: {yMajor: p.ticks, yMinor: p.minor, xTicks: true, gray: p.gray, texts: p.texts, leaders: p.leaders, arrows: p.arrows, tag: p.tag}},
      scales: {
        x: xScale,
        y: yAxis(1.5, p.ymax, p.ticks, 'counts / a.u.')
      }
    },
    plugins: [deco]
  });
});
</script>
</body></html>
